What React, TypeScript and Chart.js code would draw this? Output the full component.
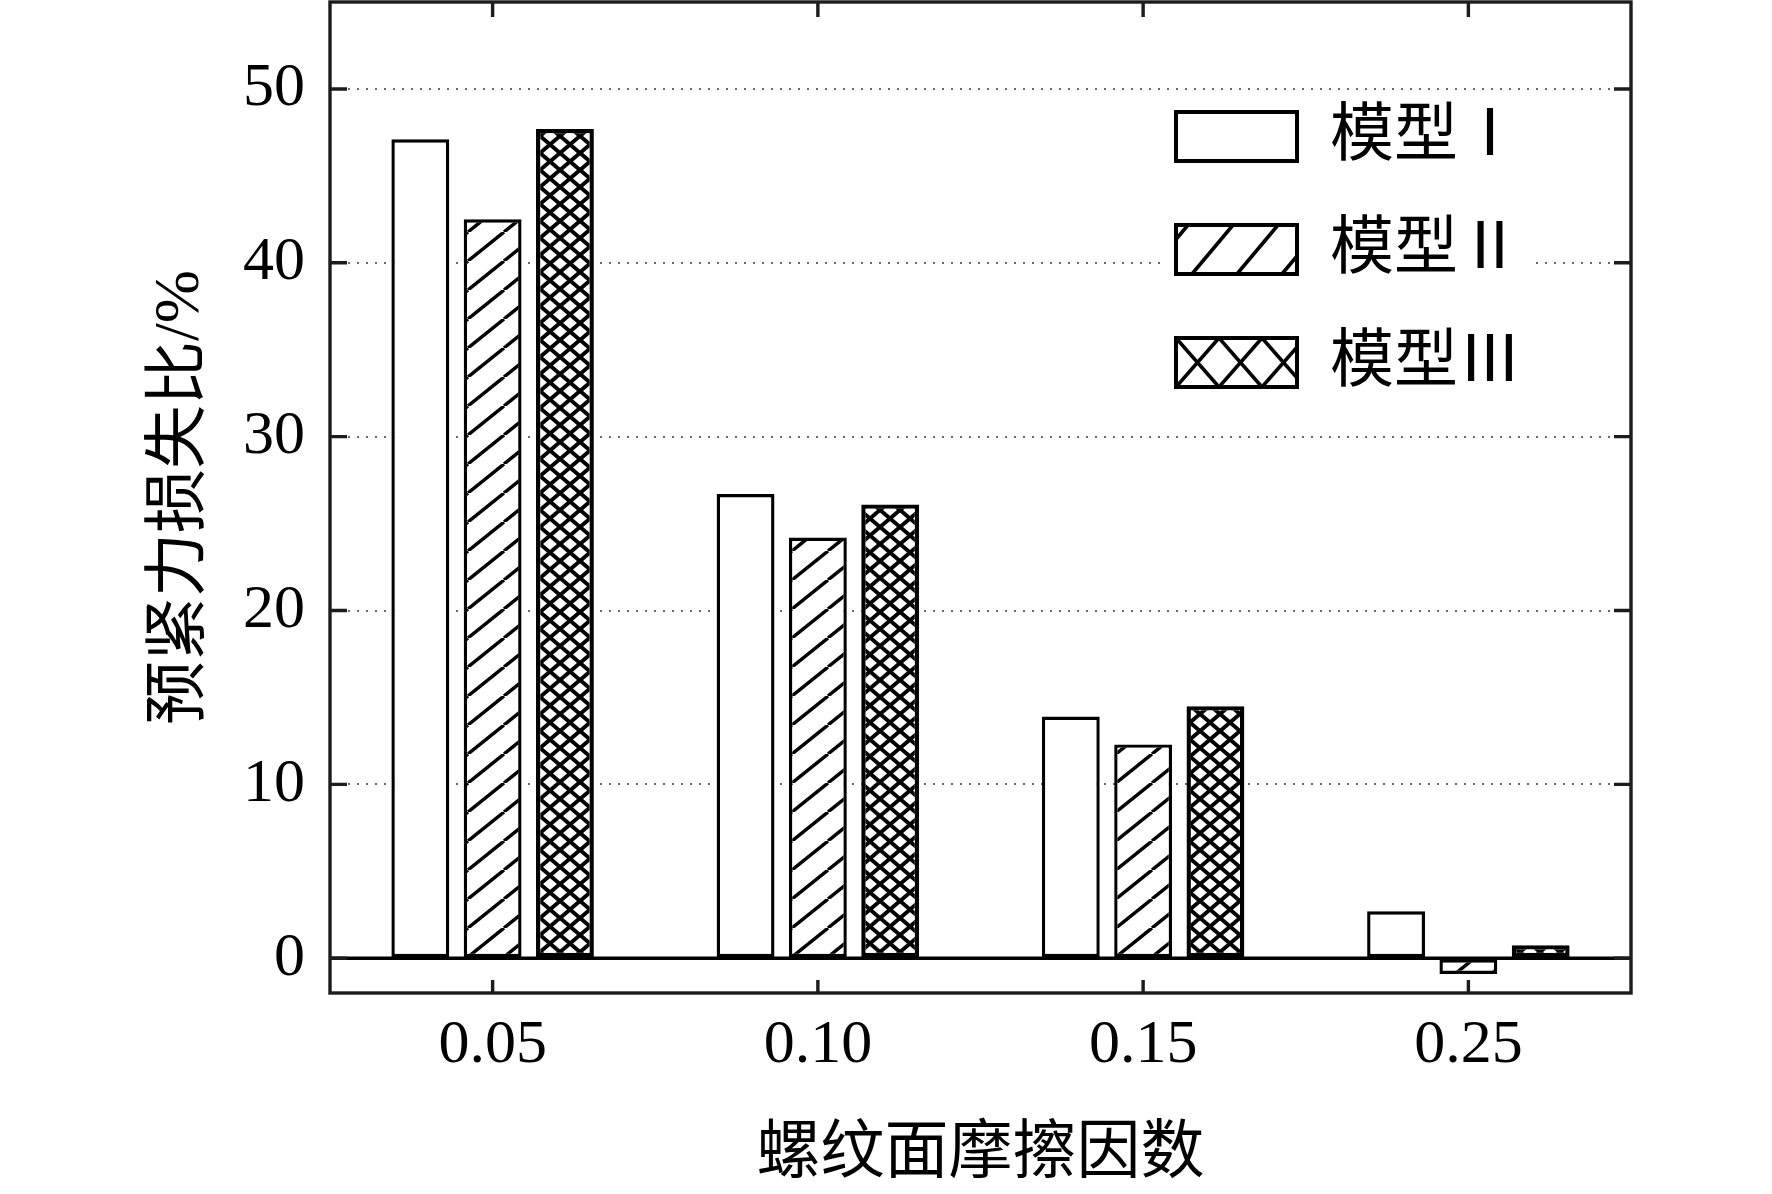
import { useEffect, useRef } from "react"
import { Chart, registerables } from "chart.js"

Chart.register(...registerables)

const categories = ["0.05", "0.10", "0.15", "0.25"]
const seriesNames = ["模型Ⅰ", "模型Ⅱ", "模型Ⅲ"]
const model1 = [47.1, 26.7, 13.9, 2.7]
const model2 = [42.5, 24.2, 12.3, -0.9]
const model3 = [47.7, 26.1, 14.5, 0.75]
const yTicks = [0, 10, 20, 30, 40, 50]
const yMin = -2
const yMax = 55

const FONT = "'Liberation Serif', 'Noto Sans CJK SC', serif"

// small helper: white tile with black strokes, used for the hatch fills
function makeTile(w: number, h: number, lw: number, draw: (g: CanvasRenderingContext2D) => void) {
  const c = document.createElement("canvas")
  c.width = w
  c.height = h
  const g = c.getContext("2d")!
  g.fillStyle = "#fff"
  g.fillRect(0, 0, w, h)
  g.strokeStyle = "#000"
  g.lineWidth = lw
  g.lineCap = "butt"
  draw(g)
  return c
}

function line(g: CanvasRenderingContext2D, x1: number, y1: number, x2: number, y2: number) {
  g.beginPath()
  g.moveTo(x1, y1)
  g.lineTo(x2, y2)
  g.stroke()
}

const diagTile = () =>
  makeTile(36, 29, 3.4, (g) => {
    for (const dx of [-36, 0, 36]) line(g, dx, 29, dx + 36, 0)
  })

const crossTile = () =>
  makeTile(20, 17, 4, (g) => {
    for (const dx of [-20, 0, 20]) {
      for (const dy of [-17, 0, 17]) {
        line(g, dx, dy, dx + 20, dy + 17)
        line(g, dx + 20, dy, dx, dy + 17)
      }
    }
  })

const legendDiagTile = () =>
  makeTile(45, 49, 3.6, (g) => {
    for (const dx of [-45, 0, 45]) line(g, dx + 16, 49, dx + 57, 0)
  })

const legendCrossTile = () =>
  makeTile(43, 49, 3.6, (g) => {
    for (const dx of [-43, 0, 43]) {
      line(g, dx, 0, dx + 43, 49)
      line(g, dx + 43, 0, dx, 49)
    }
  })

const framePlugin = {
  id: "frame",
  afterDatasetsDraw(chart: any) {
    const { ctx, chartArea: a, scales } = chart
    const xs = scales.x
    const ys = scales.y
    ctx.save()
    // zero line over the bar bases
    const y0 = ys.getPixelForValue(0)
    ctx.strokeStyle = "#000"
    ctx.lineWidth = 3.6
    ctx.beginPath()
    ctx.moveTo(a.left, y0)
    ctx.lineTo(a.right, y0)
    ctx.stroke()

    ctx.strokeStyle = "#1c1c1c"
    ctx.lineWidth = 3.4
    ctx.strokeRect(a.left, a.top, a.right - a.left, a.bottom - a.top)

    // inward ticks on all four sides
    ctx.beginPath()
    ys.ticks.forEach((t: any) => {
      const py = ys.getPixelForValue(t.value)
      ctx.moveTo(a.left, py)
      ctx.lineTo(a.left + 17, py)
      ctx.moveTo(a.right, py)
      ctx.lineTo(a.right - 17, py)
    })
    xs.ticks.forEach((_t: any, i: number) => {
      const px = xs.getPixelForTick(i)
      ctx.moveTo(px, a.top)
      ctx.lineTo(px, a.top + 15)
      ctx.moveTo(px, a.bottom)
      ctx.lineTo(px, a.bottom - 13)
    })
    ctx.stroke()
    ctx.restore()
  },
  afterDraw(chart: any, _args: any, opts: any) {
    const { ctx } = chart
    const fills: (string | CanvasPattern)[] = opts.fills || []
    ctx.save()
    ctx.font = `64px ${FONT}`
    ctx.textBaseline = "middle"
    chart.data.datasets.forEach((ds: any, i: number) => {
      const bx = 1176
      const by = 112 + i * 113
      const bw = 121
      const bh = 49
      const cy = by + bh / 2
      const tw = ctx.measureText(ds.label).width
      ctx.fillStyle = "#fff"
      ctx.fillRect(1160, cy - 34, 1330 + tw + 12 - 1160, 68)
      const f = fills[i]
      if (f && typeof f !== "string") f.setTransform(new DOMMatrix().translate(bx, by))
      ctx.fillStyle = f || "#fff"
      ctx.fillRect(bx, by, bw, bh)
      ctx.strokeStyle = "#000"
      ctx.lineWidth = 4
      ctx.strokeRect(bx, by, bw, bh)
      ctx.fillStyle = "#000"
      ctx.fillText(ds.label, 1330, cy + 2)
    })
    ctx.restore()
  },
}

export default function App() {
  const canvasRef = useRef<HTMLCanvasElement | null>(null)
  const chartRef = useRef<Chart | null>(null)

  useEffect(() => {
    const canvas = canvasRef.current
    if (!canvas) return
    const ctx = canvas.getContext("2d")
    if (!ctx) return
    if (chartRef.current) chartRef.current.destroy()

    const diag = ctx.createPattern(diagTile(), "repeat")!
    const cross = ctx.createPattern(crossTile(), "repeat")!
    const legDiag = ctx.createPattern(legendDiagTile(), "repeat")!
    const legCross = ctx.createPattern(legendCrossTile(), "repeat")!

    const values = [model1, model2, model3]
    const fills = ["#fff", diag, cross]
    const widths = [3.4, 3.4, 4.4]

    chartRef.current = new Chart(ctx, {
      type: "bar",
      data: {
        labels: categories,
        datasets: seriesNames.map((name, i) => ({
          label: name,
          data: values[i],
          backgroundColor: fills[i] as any,
          borderColor: "#000",
          borderWidth: widths[i],
          borderSkipped: false,
          categoryPercentage: 0.667,
          barPercentage: 0.8,
        })),
      },
      options: {
        responsive: false,
        animation: false,
        devicePixelRatio: 1,
        events: [],
        layout: { padding: { top: 2, right: 141, left: 0, bottom: 0 } },
        plugins: {
          legend: { display: false },
          tooltip: { enabled: false },
          frame: { fills: ["#fff", legDiag, legCross] },
        } as any,
        scales: {
          x: {
            type: "category",
            grid: { display: false },
            border: { display: false },
            ticks: {
              color: "#000",
              padding: 8,
              font: { family: FONT, size: 62 },
            },
            title: {
              display: true,
              text: "螺纹面摩擦因数",
              color: "#000",
              font: { family: FONT, size: 64 },
              padding: { top: 0, bottom: 0 },
            },
            afterFit: (s: any) => {
              s.height = 201
              s.paddingLeft = 0
              s.paddingRight = 0
            },
          },
          y: {
            type: "linear",
            min: yMin,
            max: yMax,
            afterBuildTicks: (s: any) => {
              s.ticks = yTicks.map((v) => ({ value: v }))
            },
            grid: {
              drawTicks: false,
              lineWidth: 2,
              color: (c: any) => (c.tick && c.tick.value === 0 ? "rgba(0,0,0,0)" : "#6a6a6a"),
            },
            border: { display: false, dash: [2, 7] },
            ticks: {
              color: "#000",
              padding: 25,
              font: { family: FONT, size: 62 },
            },
            title: {
              display: true,
              text: "预紧力损失比/%",
              color: "#000",
              font: { family: FONT, size: 64 },
              padding: { top: 143, bottom: 0 },
            },
            afterFit: (s: any) => {
              s.width = 330
              s.paddingTop = 0
              s.paddingBottom = 0
            },
          },
        },
      },
      plugins: [framePlugin],
    })

    return () => {
      if (chartRef.current) {
        chartRef.current.destroy()
        chartRef.current = null
      }
    }
  }, [])

  return (
    <div style={{ position: "absolute", left: 0, top: 0, width: 1772, height: 1194, background: "#fff" }}>
      <canvas ref={canvasRef} width={1772} height={1194} />
    </div>
  )
}
